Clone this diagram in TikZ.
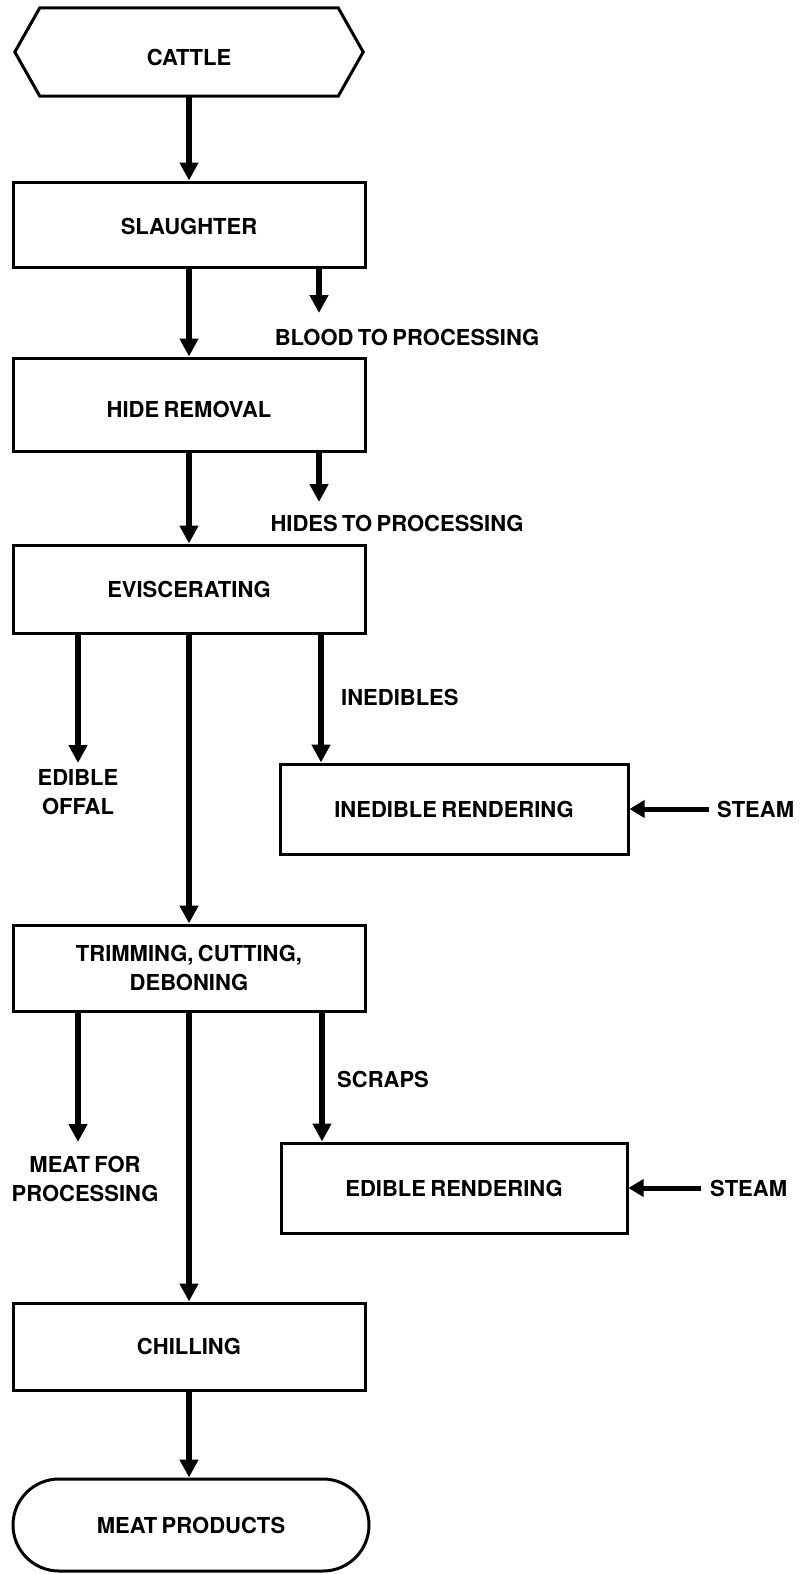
\documentclass[tikz,border=0pt]{standalone}
\usepackage{fontspec}
\setmainfont{TeX Gyre Heros}
\usetikzlibrary{arrows.meta,calc}
\newcommand{\dn}[2][10pt]{\raisebox{0pt}[\dimexpr\height+#1\relax][0pt]{#2}}
\newcommand{\tightsp}{\spaceskip=0.2em plus 0.05em\relax}
\begin{document}
\begin{tikzpicture}[x=1pt,y=-1pt,
  font=\fontsize{22}{29}\selectfont\bfseries\tightsp,
  box/.style={draw,line width=3pt,minimum width=352pt,inner sep=0pt,align=center},
  flow/.style={line width=5.5pt,-{Triangle[width=18pt,length=18pt]}},
  steamflow/.style={line width=5pt,-{Triangle[width=17pt,length=15pt]}},
  lbl/.style={inner sep=0pt,align=center}]
\useasboundingbox[fill=white] (0,0) rectangle (809,1574);

% main column
\node[minimum width=348pt,minimum height=88pt,inner sep=0pt] (cattle) at (189,52) {\dn{CATTLE}};
\draw[line width=3pt,line join=miter] (cattle.west) -- ([xshift=25pt]cattle.north west)
  -- ([xshift=-25pt]cattle.north east) -- (cattle.east)
  -- ([xshift=-25pt]cattle.south east) -- ([xshift=25pt]cattle.south west) -- cycle;
\node[box,minimum height=85pt] (slaughter) at (189,224.5) {\dn[4pt]{SLAUGHTER}};
\node[box,minimum height=93pt] (hide) at (189,404.5) {\dn{HIDE REMOVAL}};
\node[box,minimum height=88pt] (evisc) at (189,589) {EVISCERATING};
\node[box,minimum height=86pt] (trim) at (189,968) {TRIMMING, CUTTING,\\DEBONING};
\node[box,minimum height=87pt] (chill) at (189,1346.5) {CHILLING};
\node[draw,line width=3pt,minimum width=356pt,minimum height=92pt,rounded corners=46pt,inner sep=0pt] (meat) at (191,1525) {MEAT PRODUCTS};

% side boxes
\node[box,minimum width=348pt,minimum height=90pt] (inedible) at (454,809) {INEDIBLE RENDERING};
\node[box,minimum width=346pt,minimum height=90pt] (edible) at (454,1188) {EDIBLE RENDERING};

% main flow
\draw[flow] (cattle.south) -- (slaughter.north);
\draw[flow] (slaughter.south) -- (hide.north);
\draw[flow] (hide.south) -- (evisc.north);
\draw[flow] (evisc.south) -- (trim.north);
\draw[flow] (trim.south) -- (chill.north);
\draw[flow] (chill.south) -- (meat.north -| chill.south);

% blood
\coordinate (bl) at (319,313);
\draw[flow] (slaughter.south -| bl) -- (bl);
\node[lbl] (bltxt) at (407,337) {BLOOD TO PROCESSING};
% hides
\coordinate (hd) at (319,502);
\draw[flow] (hide.south -| hd) -- (hd);
\node[lbl] (hdtxt) at (397,523) {HIDES TO PROCESSING};
% edible offal
\coordinate (of) at (78,763);
\draw[flow] (evisc.south -| of) -- (of);
\node[lbl] (oftxt) at (78,792) {EDIBLE\\OFFAL};
% inedibles
\coordinate (inx) at (321,700);
\draw[flow] (evisc.south -| inx) -- (inedible.north -| inx);
\node[lbl,anchor=west] (intxt) at (341,697) {INEDIBLES};
% steam 1
\coordinate (s1) at (709,809);
\draw[steamflow] (s1) -- (inedible.east);
\node[lbl,anchor=west] (st1) at (717,809) {STEAM};
% meat for processing
\coordinate (mp) at (78,1142);
\draw[flow] (trim.south -| mp) -- (mp);
\node[lbl] (mptxt) at (85,1179) {MEAT FOR\\PROCESSING};
% scraps
\coordinate (scx) at (322,1080);
\draw[flow] (trim.south -| scx) -- (edible.north -| scx);
\node[lbl,anchor=west] (sctxt) at (337,1079) {SCRAPS};
% steam 2
\coordinate (s2) at (701,1188);
\draw[steamflow] (s2) -- (edible.east);
\node[lbl,anchor=west] (st2) at (710,1188) {STEAM};
\end{tikzpicture}
\end{document}
